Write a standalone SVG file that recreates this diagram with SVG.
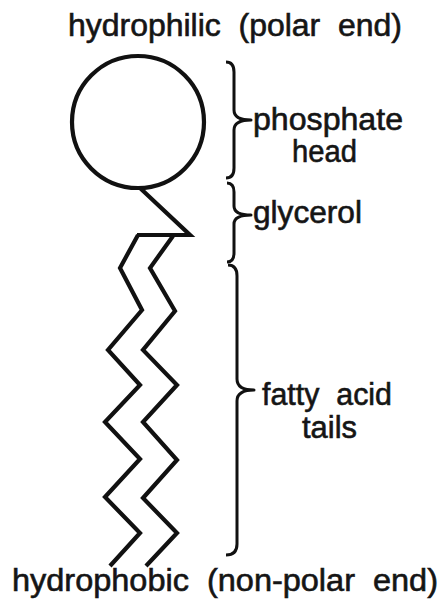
<svg xmlns="http://www.w3.org/2000/svg" width="443" height="601" viewBox="0 0 443 601">
  <style>
    .ink { fill: none; stroke: #111; stroke-width: 4.2; stroke-linejoin: miter; stroke-linecap: butt; }
    .brace { fill: none; stroke: #111; stroke-width: 3; stroke-linejoin: round; }
    text { font-family: "Liberation Sans", Arial, Helvetica, sans-serif; font-size: 31px; fill: #151515; stroke: #151515; stroke-width: 0.6; white-space: pre; }
  </style>
  <rect width="443" height="601" fill="#ffffff"/>

  <!-- end labels -->
  <g id="polar-end">
    <text x="68" y="36" textLength="334" lengthAdjust="spacingAndGlyphs" xml:space="preserve">hydrophilic  (polar  end)</text>
  </g>
  <g id="nonpolar-end">
    <text x="12" y="591" textLength="426" lengthAdjust="spacingAndGlyphs" xml:space="preserve">hydrophobic  (non-polar  end)</text>
  </g>

  <!-- phospholipid molecule -->
  <g id="phosphate-head">
    <circle class="ink" cx="138" cy="122" r="66"/>
  </g>
  <g id="glycerol">
    <polyline class="ink" points="140,188 190,235 137,235"/>
  </g>
  <g id="fatty-acid-tails">
    <polyline class="ink" points="138,235 120,268 142,310 108,350 140,385 105,422 140,459 105,497 140,533 110,566"/>
    <polyline class="ink" points="173,236 150,268 175,311 143,350 177,385 143,422 177,460 143,498 177,533 146,566"/>
  </g>

  <!-- braces and part labels -->
  <g id="connectors">
    <path class="brace" d="M226,62 Q234,62 234,72 L234,110 Q234,120 251,120 Q234,120 234,130 L234,168 Q234,178 226,178"/>
    <path class="brace" d="M227,183 Q234,183 234,192 L234,206 Q234,215 251,215 Q234,215 234,224 L234,253 Q234,262 227,262"/>
    <path class="brace" d="M228,265 Q237,265 237,276 L237,379 Q237,390 254,390 Q237,390 237,401 L237,544 Q237,555 226,555"/>
  </g>
  <g id="label-phosphate">
    <text x="253" y="130" textLength="150" lengthAdjust="spacingAndGlyphs">phosphate</text>
    <text x="292" y="162" textLength="65" lengthAdjust="spacingAndGlyphs">head</text>
  </g>
  <g id="label-glycerol">
    <text x="253" y="223" textLength="109" lengthAdjust="spacingAndGlyphs">glycerol</text>
  </g>
  <g id="label-tails">
    <text x="262" y="405" textLength="130" lengthAdjust="spacingAndGlyphs" xml:space="preserve">fatty  acid</text>
    <text x="302" y="438" textLength="55" lengthAdjust="spacingAndGlyphs">tails</text>
  </g>
</svg>
